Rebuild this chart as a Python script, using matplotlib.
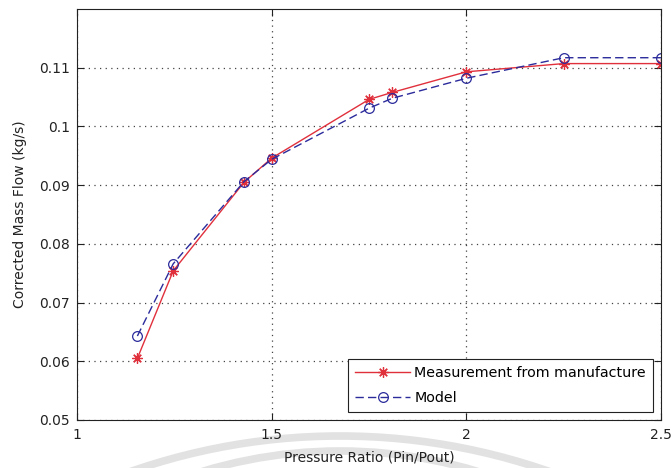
import matplotlib
matplotlib.use('Agg')
import matplotlib.pyplot as plt
from matplotlib.patches import Arc

# pressure ratio vs corrected mass flow
pressure_ratio = [1.155, 1.247, 1.429, 1.5, 1.75, 1.81, 2.0, 2.25, 2.5]
flow_measured = [0.0605, 0.0754, 0.0905, 0.0946, 0.1046, 0.1058, 0.1093, 0.1107, 0.1107]
flow_model = [0.0643, 0.0766, 0.0906, 0.0944, 0.1031, 0.1048, 0.1082, 0.1117, 0.1117]

x_ticks = [1, 1.5, 2, 2.5]
x_tick_labels = ['1', '1.5', '2', '2.5']
y_ticks = [0.05, 0.06, 0.07, 0.08, 0.09, 0.1, 0.11]
y_tick_labels = ['0.05', '0.06', '0.07', '0.08', '0.09', '0.1', '0.11']

plt.rcParams['font.family'] = ['DejaVu Sans']

fig = plt.figure(figsize=(6.71, 4.68), dpi=100)

# faint watermark arcs along the bottom edge, in pixel coordinates
bg = fig.add_axes([0, 0, 1, 1], zorder=-1)
bg.set_xlim(0, 671)
bg.set_ylim(468, 0)
bg.axis('off')
bg.add_patch(Arc((340, 1071), 1270, 1270, theta1=0, theta2=360,
                 color='#e2e2e2', lw=5.5))
bg.add_patch(Arc((340, 926), 950, 950, theta1=0, theta2=360,
                 color='#e2e2e2', lw=5.5))

ax = fig.add_axes([0.1148, 0.1026, 0.8704, 0.8782])

ax.plot(pressure_ratio, flow_measured, '-', marker=(8, 2, 0), color='#e0303c', lw=1.0,
        markersize=7.5, markeredgewidth=0.9, label='Measurement from manufacture')
ax.plot(pressure_ratio, flow_model, '--o', color='#2b2b9c', lw=1.0,
        markersize=7, markerfacecolor='none', markeredgewidth=0.9,
        dashes=(6, 3), label='Model')

ax.set_xlim(1, 2.5)
ax.set_ylim(0.05, 0.12)
ax.set_xticks(x_ticks)
ax.set_xticklabels(x_tick_labels)
ax.set_yticks(y_ticks)
ax.set_yticklabels(y_tick_labels)
ax.tick_params(direction='in', top=True, right=True, labelsize=10,
               length=5, width=0.8, pad=5, colors='#222222')
ax.tick_params(axis='x', pad=6)

ax.grid(True, linestyle=(0, (1, 3.5)), color='#444444', linewidth=0.9)
for spine in ax.spines.values():
    spine.set_linewidth(0.8)
    spine.set_color('#222222')

ax.set_xlabel('Pressure Ratio (Pin/Pout)', fontsize=10, labelpad=6, color='#222222')
ax.set_ylabel('Corrected Mass Flow (kg/s)', fontsize=10, labelpad=9, color='#222222')

leg = ax.legend(loc='lower right', fontsize=10.3, fancybox=False, framealpha=1,
                edgecolor='#222222', borderaxespad=0.55, handlelength=3.8,
                handletextpad=0.3, labelspacing=0.72, borderpad=0.52)
leg.get_frame().set_linewidth(0.8)

plt.savefig('out.png', dpi=100)
plt.close()
